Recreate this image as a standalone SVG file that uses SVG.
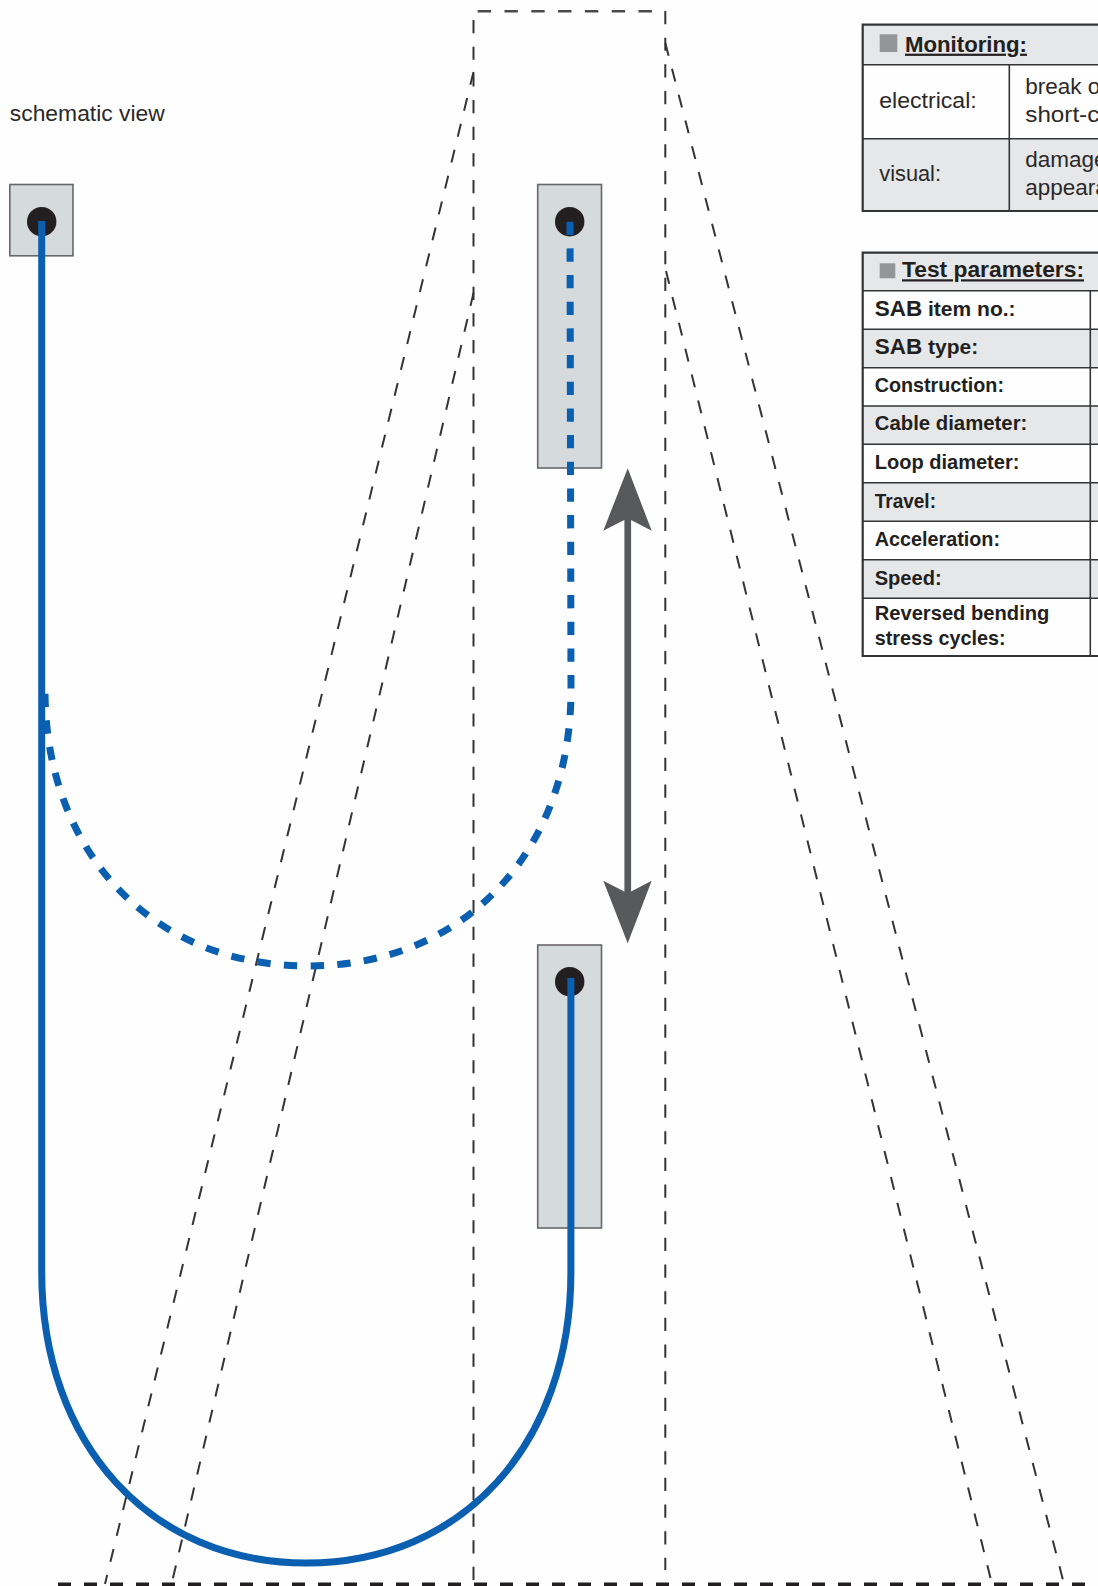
<svg xmlns="http://www.w3.org/2000/svg" width="1098" height="1586" viewBox="0 0 1098 1586">
<style>
text{font-family:"Liberation Sans",Arial,sans-serif;fill:#231f20}
.t{font-size:22.5px;fill:#2b2829}
.b{font-size:21px;font-weight:700}
.h{font-size:22px;font-weight:700;text-decoration:underline}
.c{fill:#d5dadd;stroke:#666769;stroke-width:1.6}
.k{fill:#231f20}
.g{fill:#e6e7e8}
.ln{stroke:#333436;stroke-width:1.6;fill:none}
.bx{fill:none;stroke:#333436;stroke-width:2.2}
.d{stroke:#333436;stroke-width:2;fill:none;stroke-dasharray:13.2 13.47}
.dt{stroke:#4a4a4c;stroke-width:2.6;fill:none;stroke-dasharray:13.4 13.4}
.db{stroke:#231f20;stroke-width:3.6;fill:none;stroke-dasharray:13 13}
.s{fill:#939598}
.blue{stroke:#0a5fb0;stroke-width:7;fill:none}
</style>
<rect width="1098" height="1586" fill="#fefefe"/>
<g id="guides">
<path class="dt" d="M477.7 11.3H665"/>
<path class="d" d="M473.5 20V1584"/>
<path class="d" d="M665.3 11V1570"/>
<path class="d" d="M473.5 72L105 1584"/>
<path class="d" d="M473.5 293L171.6 1584"/>
<path class="d" d="M665.3 43L1063 1580"/>
<path class="d" d="M666 271L991 1580"/>
<path class="db" d="M58 1584.4H1098"/>
</g>
<text id="view-label" x="9.8" y="120.7" class="t" textLength="155" lengthAdjust="spacingAndGlyphs">schematic view</text>
<g id="node-fixed">
<rect class="c" x="9.8" y="184.5" width="63.2" height="71.3"/>
<circle class="k" cx="41.7" cy="221.7" r="14.7"/>
</g>
<g id="node-carriage-top">
<rect class="c" x="537.7" y="184.5" width="63.8" height="283.5"/>
<circle class="k" cx="569.7" cy="221.7" r="14.7"/>
</g>
<g id="node-carriage-bottom">
<rect class="c" x="537.7" y="945" width="63.8" height="283"/>
<circle class="k" cx="569.7" cy="981.7" r="14.7"/>
</g>
<g id="connectors">
<path class="blue" d="M41.7 221V1272C41.7 1444 150.3 1563 306.3 1563C462.3 1563 570.9 1444 570.9 1272V978"/>
<path class="blue" stroke-dasharray="13.3 13.37" d="M570 221.7L571 690C571 853 463 966 308 966C153 966 45 853 45 690"/>
</g>
<g id="travel-arrow" fill="#58595b">
<rect x="624.4" y="510" width="6.7" height="390"/>
<polygon points="627.7,468.3 651.7,530.7 627.7,518.3 603.3,530.7"/>
<polygon points="627.7,943.3 651.7,880.7 627.7,893.3 603.3,880.7"/>
</g>
<g id="table-monitoring">
<rect class="g" x="862.7" y="24.7" width="235.3" height="40"/>
<rect class="g" x="862.7" y="138.7" width="235.3" height="72.3"/>
<path class="ln" d="M862.7 64.7H1098M862.7 138.7H1098M1009.3 64.7V211"/>
<path class="bx" d="M1098 24.7H862.7V211H1098"/>
<rect class="s" x="879.7" y="34.3" width="17.6" height="17.7"/>
<text x="905" y="51.7" class="h" textLength="122" lengthAdjust="spacingAndGlyphs">Monitoring:</text>
<text x="879.3" y="107.7" class="t" textLength="97.4" lengthAdjust="spacingAndGlyphs">electrical:</text>
<text x="1025.3" y="94" class="t">break o</text>
<text x="1025.3" y="121.7" class="t" textLength="74" lengthAdjust="spacingAndGlyphs">short-c</text>
<text x="879.3" y="181" class="t" textLength="61.7" lengthAdjust="spacingAndGlyphs">visual:</text>
<text x="1025.3" y="166.7" class="t">damage</text>
<text x="1025.3" y="195" class="t">appeara</text>
</g>
<g id="table-test-parameters">
<rect class="g" x="862.7" y="252.7" width="235.3" height="38"/>
<rect class="g" x="862.7" y="329.3" width="235.3" height="38.4"/>
<rect class="g" x="862.7" y="406" width="235.3" height="38.3"/>
<rect class="g" x="862.7" y="482.7" width="235.3" height="38.6"/>
<rect class="g" x="862.7" y="559.7" width="235.3" height="38.6"/>
<path class="ln" d="M862.7 290.7H1098M862.7 329.3H1098M862.7 367.7H1098M862.7 406H1098M862.7 444.3H1098M862.7 482.7H1098M862.7 521.3H1098M862.7 559.7H1098M862.7 598.3H1098M1090.3 290.7V656"/>
<path class="bx" d="M1098 252.7H862.7V656H1098"/>
<rect class="s" x="879.7" y="263.3" width="15.6" height="15"/>
<text x="902" y="277.3" class="h" textLength="182" lengthAdjust="spacingAndGlyphs">Test parameters:</text>
<text x="874.7" y="316" class="b"><tspan font-size="22.5">SAB</tspan> item no.:</text>
<text x="874.7" y="354.3" class="b"><tspan font-size="22.5">SAB</tspan> type:</text>
<text x="874.7" y="392" class="b" textLength="129.3" lengthAdjust="spacingAndGlyphs">Construction:</text>
<text x="874.7" y="430.3" class="b" textLength="152.7" lengthAdjust="spacingAndGlyphs">Cable diameter:</text>
<text x="874.7" y="469" class="b" textLength="144.7" lengthAdjust="spacingAndGlyphs">Loop diameter:</text>
<text x="874.7" y="507.7" class="b" textLength="61.3" lengthAdjust="spacingAndGlyphs">Travel:</text>
<text x="874.7" y="546" class="b" textLength="125.3" lengthAdjust="spacingAndGlyphs">Acceleration:</text>
<text x="874.7" y="585" class="b" textLength="67" lengthAdjust="spacingAndGlyphs">Speed:</text>
<text x="874.7" y="620" class="b" textLength="174.7" lengthAdjust="spacingAndGlyphs">Reversed bending</text>
<text x="874.7" y="645" class="b" textLength="131" lengthAdjust="spacingAndGlyphs">stress cycles:</text>
</g>
</svg>
